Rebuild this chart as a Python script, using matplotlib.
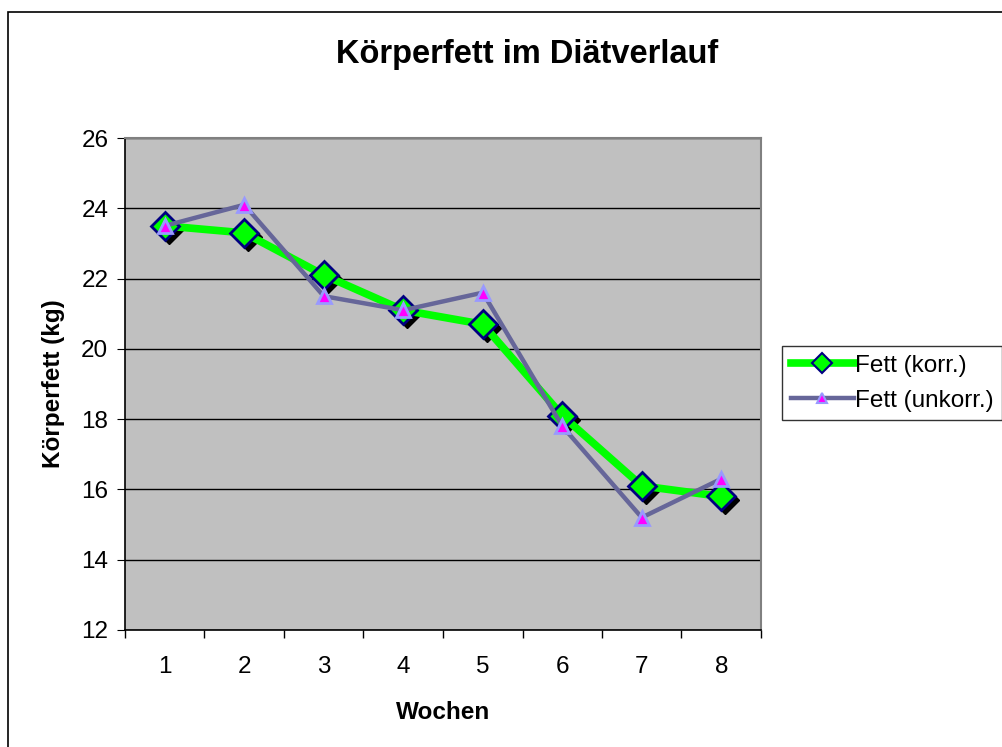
import matplotlib.pyplot as plt
import matplotlib.transforms as mtransforms
from matplotlib.patches import Rectangle

plt.rcParams['font.family'] = ['Liberation Sans', 'DejaVu Sans']

wochen = [1, 2, 3, 4, 5, 6, 7, 8]
fett_korr = [23.5, 23.3, 22.1, 21.1, 20.7, 18.1, 16.1, 15.8]
fett_unkorr = [23.5, 24.1, 21.5, 21.1, 21.6, 17.8, 15.2, 16.3]

fig = plt.figure(figsize=(10.03, 7.47), dpi=100)
W, H = 1003, 747
# Rahmen um das ganze Diagramm
fig.patches.append(Rectangle((8 / W, -0.1), 1.2, 1 - 12 / H + 0.1, transform=fig.transFigure,
                             fill=False, edgecolor='black', linewidth=1.2))

ax = fig.add_axes([125 / W, 1 - 630 / H, (761 - 125) / W, (630 - 138) / H])
ax.set_facecolor('#C0C0C0')

# Schatten der Rauten
shadow = mtransforms.offset_copy(ax.transData, fig=fig, x=4, y=-4, units='dots')
ax.plot(wochen, fett_korr, linestyle='none', marker='D', markersize=14,
        color='black', transform=shadow, zorder=3)

ax.plot(wochen, fett_korr, color='#00FF00', linewidth=5.5, marker='D', markersize=14,
        markerfacecolor='#00FF00', markeredgecolor='#000080', markeredgewidth=2,
        label='Fett (korr.)', zorder=4)
ax.plot(wochen, fett_unkorr, color='#666699', linewidth=3.2, marker='^', markersize=10,
        markerfacecolor='#FF00FF', markeredgecolor='#9999FF', markeredgewidth=2,
        label='Fett (unkorr.)', zorder=5)

ax.set_xlim(0.5, 8.5)
ax.set_ylim(12, 26)
ax.set_yticks(range(12, 27, 2))
ax.yaxis.grid(True, color='black', linewidth=1)
ax.set_axisbelow(True)
ax.set_xticks(wochen)
ax.set_xticks([x + 0.5 for x in range(0, 9)], minor=True)
ax.tick_params(axis='x', which='major', length=0, labelsize=17.5, pad=19)
ax.tick_params(axis='x', which='minor', length=6, direction='out', width=1)
ax.tick_params(axis='y', length=6, direction='out', labelsize=17.5, pad=6)
for s in ['left', 'bottom']:
    ax.spines[s].set_color('black')
    ax.spines[s].set_linewidth(1.2)
for s in ['top', 'right']:
    ax.spines[s].set_color('#808080')
    ax.spines[s].set_linewidth(1.5)

ax.set_xlabel('Wochen', fontsize=17.5, fontweight='bold', labelpad=16)
ax.set_ylabel('Körperfett (kg)', fontsize=17.5, fontweight='bold', labelpad=12)
fig.text(527 / W, 1 - 55 / H, 'Körperfett im Diätverlauf', fontsize=23.5, fontweight='bold',
         ha='center', va='center')

leg = fig.legend(loc='upper left', bbox_to_anchor=(782 / W, 1 - 346 / H), fontsize=17.5,
                 frameon=True, fancybox=False, edgecolor='black', borderpad=0.35,
                 handlelength=2.6, handletextpad=0.05, labelspacing=0.55, borderaxespad=0,
                 markerscale=0.7)
leg.get_frame().set_linewidth(1)
for h in leg.legend_handles:
    h.set_markeredgewidth(1.5)

fig.savefig('out.png', dpi=100)
